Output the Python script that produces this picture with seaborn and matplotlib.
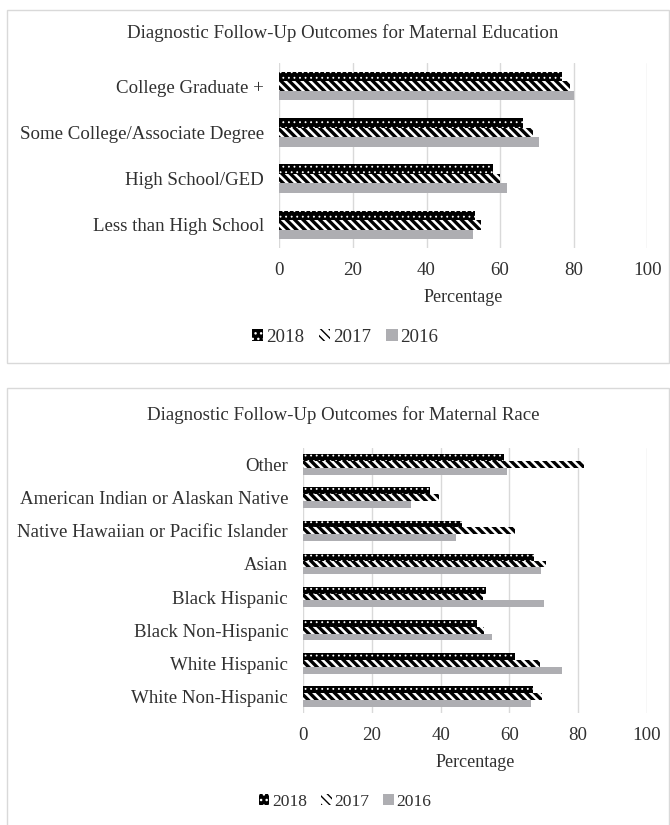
import matplotlib
matplotlib.use("Agg")
import matplotlib.pyplot as plt
import matplotlib.patches as mpatches
import seaborn as sns
import pandas as pd

years = ["2018", "2017", "2016"]

edu_categories = ["College Graduate +", "Some College/Associate Degree",
                  "High School/GED", "Less than High School"]
edu_2018 = [76.8, 66.3, 58.0, 53.2]
edu_2017 = [79.0, 69.0, 60.0, 54.7]
edu_2016 = [80.1, 70.5, 61.8, 52.7]

race_categories = ["Other", "American Indian or Alaskan Native",
                   "Native Hawaiian or Pacific Islander", "Asian",
                   "Black Hispanic", "Black Non-Hispanic",
                   "White Hispanic", "White Non-Hispanic"]
race_2018 = [58.4, 37.0, 46.3, 67.1, 53.1, 50.6, 61.7, 66.8]
race_2017 = [81.6, 39.5, 61.7, 70.7, 52.2, 52.7, 68.9, 69.6]
race_2016 = [59.2, 31.5, 44.4, 69.3, 70.1, 54.9, 75.2, 66.3]

xticks = [0, 20, 40, 60, 80, 100]

sns.set_theme(style="white")
plt.rcParams["font.family"] = ["Liberation Serif", "DejaVu Serif"]
TXT = "#303030"
GRID = "#D9D9D9"
GRAY = "#AEAEB2"
FS = 13.6


def make_df(cats, v18, v17, v16):
    rows = []
    for vals, yr in zip([v18, v17, v16], years):
        for c, v in zip(cats, vals):
            rows.append({"Category": c, "Year": yr, "Value": v})
    return pd.DataFrame(rows)


def style(patch, yr):
    if yr == "2018":
        patch.set_facecolor("black")
        patch.set_edgecolor("white")
        patch.set_hatch("...")
        patch.set_linewidth(0)
        if hasattr(patch, "set_hatch_linewidth"):
            patch.set_hatch_linewidth(0.6)
    elif yr == "2017":
        patch.set_facecolor("white")
        patch.set_edgecolor("black")
        patch.set_hatch("\\\\\\\\")
        patch.set_linewidth(0)
        if hasattr(patch, "set_hatch_linewidth"):
            patch.set_hatch_linewidth(2.4)
    else:
        patch.set_facecolor(GRAY)
        patch.set_edgecolor(GRAY)
        patch.set_linewidth(0)


def draw(ax, df, cats, title, title_y, legend_x, legend_y, legend_fs, fig):
    sns.barplot(data=df, x="Value", y="Category", hue="Year", order=cats,
                hue_order=years, orient="h", width=0.62, gap=0,
                legend=False, ax=ax, saturation=1)
    for cont, yr in zip(ax.containers, years):
        for p in cont:
            style(p, yr)
    ax.set_xlim(0, 100)
    ax.set_xticks(xticks)
    ax.set_xticklabels([str(t) for t in xticks])
    ax.grid(axis="x", color=GRID, linewidth=1)
    ax.set_axisbelow(True)
    for s in ax.spines.values():
        s.set_visible(False)
    ax.tick_params(axis="both", length=0, colors=TXT, labelsize=FS)
    ax.tick_params(axis="y", pad=11)
    ax.tick_params(axis="x", pad=10)
    ax.set_ylabel("")
    ax.set_xlabel("Percentage", fontsize=13, color=TXT, labelpad=7)
    fig.text(0.512, title_y, title, ha="center", va="center", fontsize=FS,
             color=TXT)
    handles = []
    for yr in years:
        p = mpatches.Patch(label=yr)
        style(p, yr)
        handles.append(p)
    fig.legend(handles=handles, loc="center", bbox_to_anchor=(legend_x, legend_y),
               ncol=3, frameon=False, fontsize=legend_fs, handlelength=0.6,
               handleheight=0.6, handletextpad=0.15, columnspacing=0.8,
               labelcolor=TXT)


fig = plt.figure(figsize=(6.7, 8.25), dpi=100)
W, H = 670, 825

def fx(x):
    return x / W

def fy(y):
    return 1 - y / H

# panel boxes
fig.patches.append(mpatches.Rectangle((fx(7), fy(363)), fx(662), (363 - 10) / H,
                                      transform=fig.transFigure, fill=False,
                                      edgecolor=GRID, linewidth=1))
fig.patches.append(mpatches.Rectangle((fx(7), fy(830)), fx(662), (830 - 388) / H,
                                      transform=fig.transFigure, fill=False,
                                      edgecolor=GRID, linewidth=1))

ax1 = fig.add_axes([fx(279.3), fy(248), fx(647.3 - 279.3), (248 - 63) / H])
ax2 = fig.add_axes([fx(303.3), fy(713), fx(646.7 - 303.3), (713 - 448) / H])

draw(ax1, make_df(edu_categories, edu_2018, edu_2017, edu_2016), edu_categories,
     "Diagnostic Follow-Up Outcomes for Maternal Education", fy(33),
     0.515, fy(337), 13.6, fig)
draw(ax2, make_df(race_categories, race_2018, race_2017, race_2016), race_categories,
     "Diagnostic Follow-Up Outcomes for Maternal Race", fy(415),
     0.515, fy(802), 12.6, fig)

fig.savefig("out.png", dpi=100)
